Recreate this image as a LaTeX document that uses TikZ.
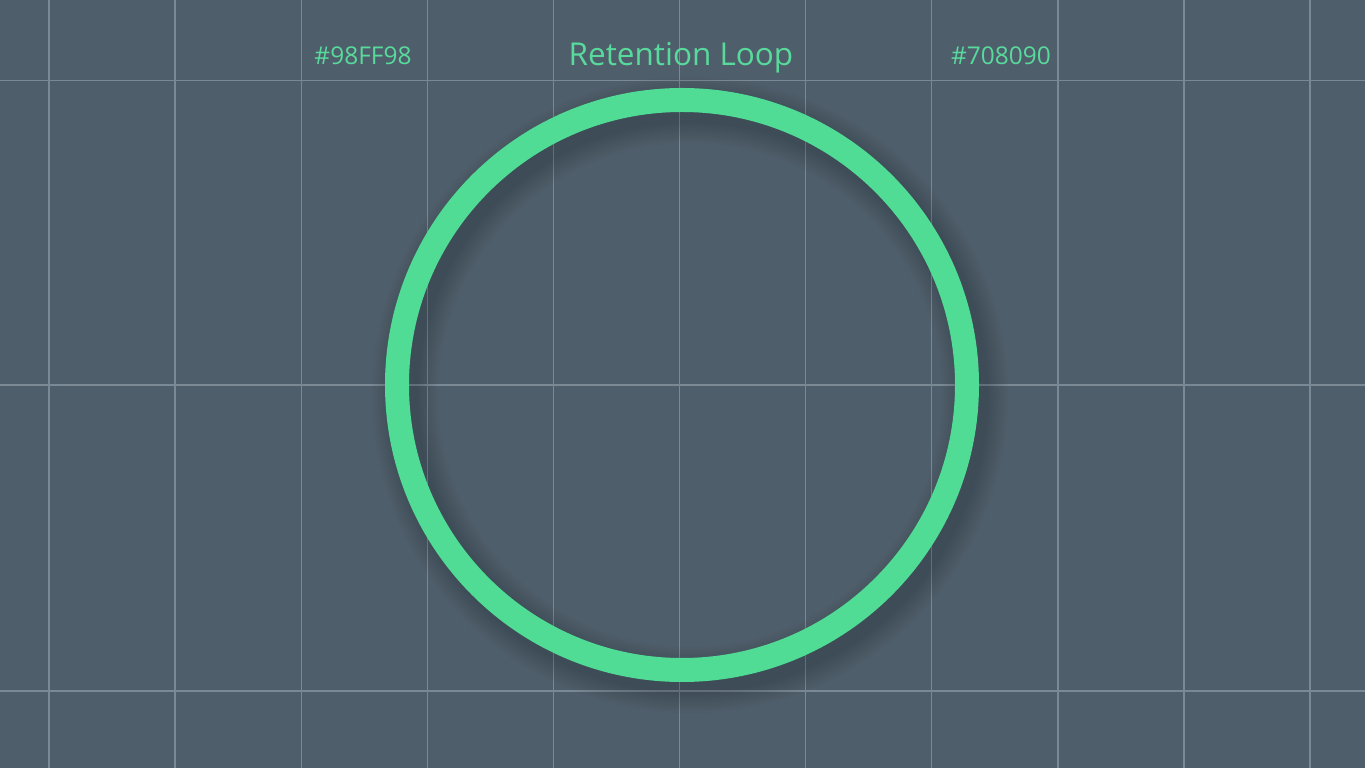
\documentclass[tikz,border=0pt]{standalone}
\usepackage{fontspec}
\setmainfont{Open Sans}
\usepackage{tikz}
\usetikzlibrary{positioning}

\definecolor{slatebg}{HTML}{4F5E6B}
\definecolor{gridcol}{HTML}{7B8995}
\definecolor{mint}{HTML}{50DC94}
\definecolor{minttext}{HTML}{58DA9C}

\tikzset{
  gridline/.style={draw=gridcol,line width=1.4pt},
  hexlabel/.style={text=minttext,font=\fontsize{24.5}{29}\selectfont},
  ringshade/.style={draw=black,line width=#1,opacity=0.018},
}

\begin{document}
\begin{tikzpicture}[x=1pt,y=1pt]
\useasboundingbox (0,0) rectangle (1365,768);
\fill[slatebg] (0,0) rectangle (1365,768);

% grid
\foreach \gx in {0,...,10}
  \draw[gridline] (49+126.1*\gx,0) -- (49+126.1*\gx,768);
\foreach \gy in {77,383,687.5}
  \draw[gridline] (0,\gy) -- (1365,\gy);

% soft shadow under the ring
\foreach \w in {26,31,...,66}
  \draw[ringshade=\w pt] (690,373) circle (285);

\path[draw] % the ring and its labels
       node[circle,draw=mint,line width=24pt,minimum size=570pt,inner sep=0pt] (loop) at (682,383) {}
       node[text=minttext,font=\fontsize{31.5}{38}\selectfont] (title) at (681,710) {Retention Loop}
       node[hexlabel] (mintcode) at (363,712) {\#98FF98}
       node[hexlabel] (slatecode) at (1001,712) {\#708090};

\end{tikzpicture}
\end{document}
